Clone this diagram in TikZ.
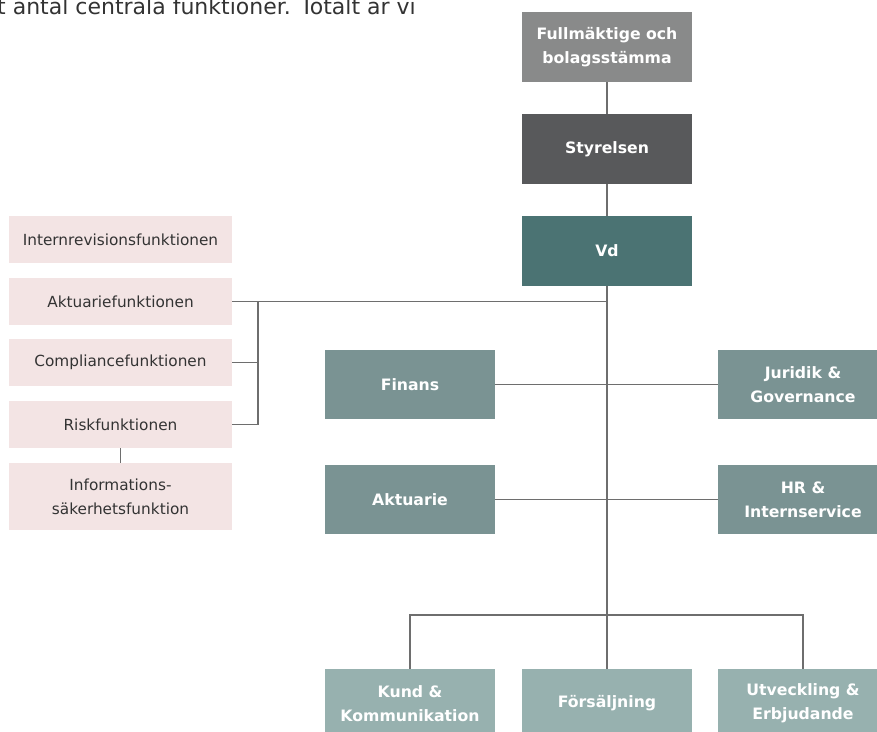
\documentclass[tikz,border=0pt]{standalone}
\usepackage{fontspec}
\setmainfont{DejaVu Sans}
\definecolor{cFull}{HTML}{898A8A}
\definecolor{cStyr}{HTML}{58595B}
\definecolor{cVd}{HTML}{4B7373}
\definecolor{cMid}{HTML}{7A9393}
\definecolor{cLow}{HTML}{97B1AF}
\definecolor{cPink}{HTML}{F3E4E4}
\definecolor{cLine}{HTML}{6E6E6E}
\definecolor{cTxt}{HTML}{333333}
\begin{document}
\begin{tikzpicture}[x=1pt,y=-1pt,
  mainbox/.style={minimum width=170pt,minimum height=70pt,inner sep=0pt,text=white,align=center,
     font=\fontsize{15.7}{24}\selectfont\bfseries},
  sidebox/.style={fill=cPink,minimum width=223pt,minimum height=47pt,inner sep=0pt,text=cTxt,align=center,
     font=\fontsize{15.3}{24}\selectfont},
  conn/.style={draw=cLine,line width=1.1pt}]
\useasboundingbox (0,0) rectangle (877,731);
\clip (0,0) rectangle (877,731);
% cut-off body text at top
\node[anchor=base west,inner sep=0pt,text=cTxt,font=\fontsize{22}{24}\selectfont] (bodytxt) at (-3,14) {t antal centrala funktioner. Totalt är vi};
% main column
\node[mainbox,fill=cFull] (full) at (607,47) {Fullmäktige och\\bolagsstämma};
\node[mainbox,fill=cStyr] (styr) at (607,149) {Styrelsen};
\node[mainbox,fill=cVd] (vd) at (607,251) {Vd};
\node[mainbox,fill=cMid,minimum height=69pt] (finans) at (410,384.5) {Finans};
\node[mainbox,fill=cMid,minimum height=69pt] (jur) at (803,384.5) {Juridik \&\\Governance};
\node[mainbox,fill=cMid,minimum height=69pt] (akt) at (410,499.5) {Aktuarie};
\node[mainbox,fill=cMid,minimum height=69pt] (hr) at (803,499.5) {HR \&\\Internservice};
\node[mainbox,fill=cLow,minimum height=69pt] (kund) at (410,703.5) {Kund \&\\Kommunikation};
\node[mainbox,fill=cLow,minimum height=69pt] (fors) at (607,703.5) {Försäljning};
\node[mainbox,fill=cLow,minimum height=69pt] (utv) at (803,703.5) {Utveckling \&\\Erbjudande};
% side functions
\node[sidebox] (irev) at (120.5,239.5) {Internrevisionsfunktionen};
\node[sidebox] (aktf) at (120.5,301.5) {Aktuariefunktionen};
\node[sidebox] (comp) at (120.5,362.5) {Compliancefunktionen};
\node[sidebox] (risk) at (120.5,424.5) {Riskfunktionen};
\node[sidebox,minimum height=67pt] (info) at (120.5,496.5) {Informations-\\säkerhetsfunktion};
% coordinates
\coordinate (brtop) at (258,301.5);
\coordinate (spine) at (607,301.5);
\coordinate (lowbar) at (607,615);
% connectors
\draw[conn] (full) -- (styr);
\draw[conn] (styr) -- (vd);
\draw[conn] (vd) -- (fors);
\draw[conn] (finans) -- (jur);
\draw[conn] (akt) -- (hr);
\draw[conn] (aktf.east) -- (spine);
\draw[conn] (brtop) |- (risk.east);
\draw[conn] (comp.east) -- (comp.east -| brtop);
\draw[conn] (risk) -- (info);
\draw[conn] (kund.north) |- (lowbar) -| (utv.north);
\end{tikzpicture}
\end{document}
